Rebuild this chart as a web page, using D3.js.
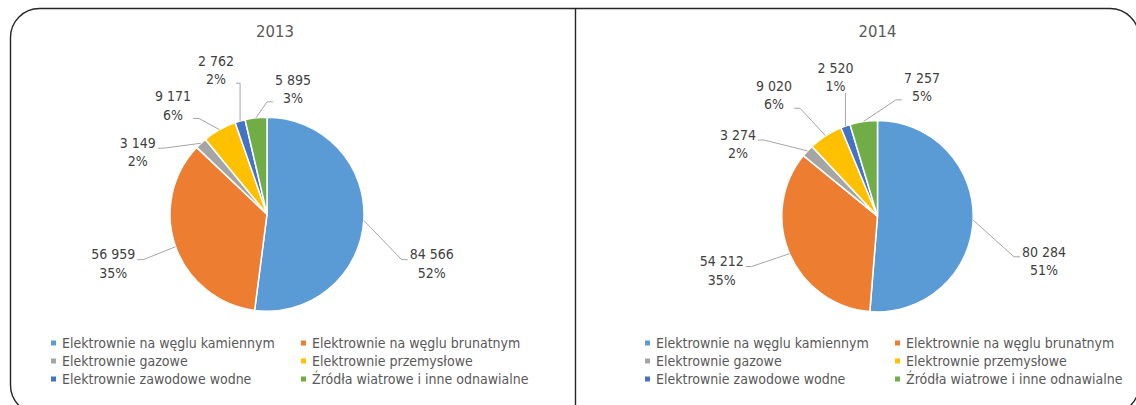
<!DOCTYPE html>
<html>
<head>
<meta charset="utf-8">
<script src="https://cdn.jsdelivr.net/npm/d3@7"></script>
<style>
  body { margin: 0; background: #fff; }
  svg { display: block; font-family: "DejaVu Sans Condensed", "DejaVu Sans", sans-serif; }
</style>
</head>
<body>
<div id="chart"></div>
<script>
// data
const categories = [
    "Elektrownie na węglu kamiennym",
    "Elektrownie na węglu brunatnym",
    "Elektrownie gazowe",
    "Elektrownie przemysłowe",
    "Elektrownie zawodowe wodne",
    "Źródła wiatrowe i inne odnawialne"
];
const years = ["2013", "2014"];
const values2013 = [84566, 56959, 3149, 9171, 2762, 5895];
const values2014 = [80284, 54212, 3274, 9020, 2520, 7257];
// percentages as printed on the chart
const pct2013 = [52, 35, 2, 6, 2, 3];
const pct2014 = [51, 35, 2, 6, 1, 5];

const colors = ["#5B9BD5", "#ED7D31", "#A5A5A5", "#FFC000", "#4472C4", "#70AD47"];

// label placement, in units of the pie radius (like excel's manual label layout)
const labelLayout2013 = [[1.698, 0.510], [-1.585, 0.510], [-1.333, -0.639], [-0.969, -1.121], [-0.526, -1.485], [0.268, -1.292]];
const labelLayout2014 = [[1.740, 0.466], [-1.628, 0.567], [-1.458, -0.754], [-1.081, -1.264], [-0.439, -1.457], [0.465, -1.352]];

const W = 1136, H = 405;
const fmt = d3.formatLocale({decimal: ",", thousands: " ", grouping: [3], currency: ["", ""]}).format(",d");

let svg = d3.select("#chart").append("svg")
    .attr("width", W)
    .attr("height", H);

// frame around both charts
svg.append("rect")
    .attr("x", 10.5).attr("y", 8.5)
    .attr("width", 1128.5).attr("height", 405.5)
    .attr("rx", 29).attr("ry", 29)
    .attr("fill", "none")
    .attr("stroke", "#262626")
    .attr("stroke-width", 1.4);
svg.append("line")
    .attr("x1", 575.5).attr("x2", 575.5)
    .attr("y1", 8.5).attr("y2", H)
    .attr("stroke", "#262626")
    .attr("stroke-width", 1.4);

/** one pie with its title, labels and legend */
class PieChart {

    constructor(cx, cy, radius, titleX, legendX){
        this.cx = cx;
        this.cy = cy;
        this.radius = radius;
        this.titleX = titleX;
        this.legendX = legendX;
        this.g = svg.append("g");
    }

    update(title, values, pcts, layout){
        let r = this.radius;
        let data = values.map((v, i) => ({name: categories[i], value: v, pct: pcts[i], i: i}));

        this.g.append("text")
            .attr("x", this.titleX)
            .attr("y", 31)
            .attr("text-anchor", "middle")
            .attr("dominant-baseline", "central")
            .attr("fill", "#595959")
            .style("font-size", "16.5px")
            .text(title);

        let pie = d3.pie().sort(null).value(d => d.value);
        let path = d3.arc().outerRadius(r).innerRadius(0);
        let edge = d3.arc().outerRadius(r).innerRadius(r);

        let slices = this.g.append("g")
            .attr("transform", "translate(" + this.cx + "," + this.cy + ")");

        slices.selectAll("path")
            .data(pie(data))
            .enter().append("path")
            .attr("d", path)
            .attr("fill", d => colors[d.data.i])
            .attr("stroke", "#fff")
            .attr("stroke-width", 1.5);

        // labels + leader lines
        let labels = slices.selectAll(".lbl")
            .data(pie(data))
            .enter().append("g")
            .attr("class", "lbl");

        labels.each(function(d){
            let g = d3.select(this);
            let lx = layout[d.data.i][0] * r;
            let ly = layout[d.data.i][1] * r;
            let t1 = g.append("text")
                .attr("x", lx).attr("y", ly - 9.2)
                .attr("text-anchor", "middle")
                .attr("dominant-baseline", "central")
                .attr("fill", "#404040")
                .style("font-size", "14px")
                .text(fmt(d.data.value));
            let t2 = g.append("text")
                .attr("x", lx).attr("y", ly + 9.2)
                .attr("text-anchor", "middle")
                .attr("dominant-baseline", "central")
                .attr("fill", "#404040")
                .style("font-size", "14px")
                .text(d.data.pct + "%");

            let w = Math.max(t1.node().getComputedTextLength(), t2.node().getComputedTextLength());
            let left = lx - w / 2, right = lx + w / 2, bottom = ly + 18;
            let p = edge.centroid(d);
            let pts;
            if (p[0] >= left - 2 && p[0] <= right + 2 && p[1] > bottom) {
                pts = [[p[0], ly + 16], p];
            } else {
                let ay = p[1] > bottom ? ly + 13 : ly - 4;
                let ax = p[0] > right ? right + 2 : left - 2;
                let dir = p[0] > ax ? 1 : -1;
                let stub = Math.min(6, Math.abs(p[0] - ax));
                pts = [[ax, ay], [ax + dir * stub, ay], p];
            }
            g.insert("path", "text")
                .attr("d", d3.line()(pts))
                .attr("fill", "none")
                .attr("stroke", "#a6a6a6")
                .attr("stroke-width", 1);
        });

        // legend, two columns
        let legend = this.g.append("g")
            .attr("transform", "translate(" + this.legendX + ",343)");
        let item = legend.selectAll(".item")
            .data(data)
            .enter().append("g")
            .attr("class", "item")
            .attr("transform", d => "translate(" + (d.i % 2) * 250 + "," + Math.floor(d.i / 2) * 18 + ")");
        item.append("rect")
            .attr("x", 0).attr("y", -2.5)
            .attr("width", 5).attr("height", 5)
            .attr("fill", d => colors[d.i]);
        item.append("text")
            .attr("x", 11)
            .attr("y", 0)
            .attr("dominant-baseline", "central")
            .attr("fill", "#595959")
            .style("font-size", "14px")
            .text(d => d.name);
    }
}

let chart2013 = new PieChart(267, 214.2, 97, 275, 51);
chart2013.update(years[0], values2013, pct2013, labelLayout2013);

let chart2014 = new PieChart(877.5, 216.2, 95.7, 877.5, 645);
chart2014.update(years[1], values2014, pct2014, labelLayout2014);
</script>
</body>
</html>
